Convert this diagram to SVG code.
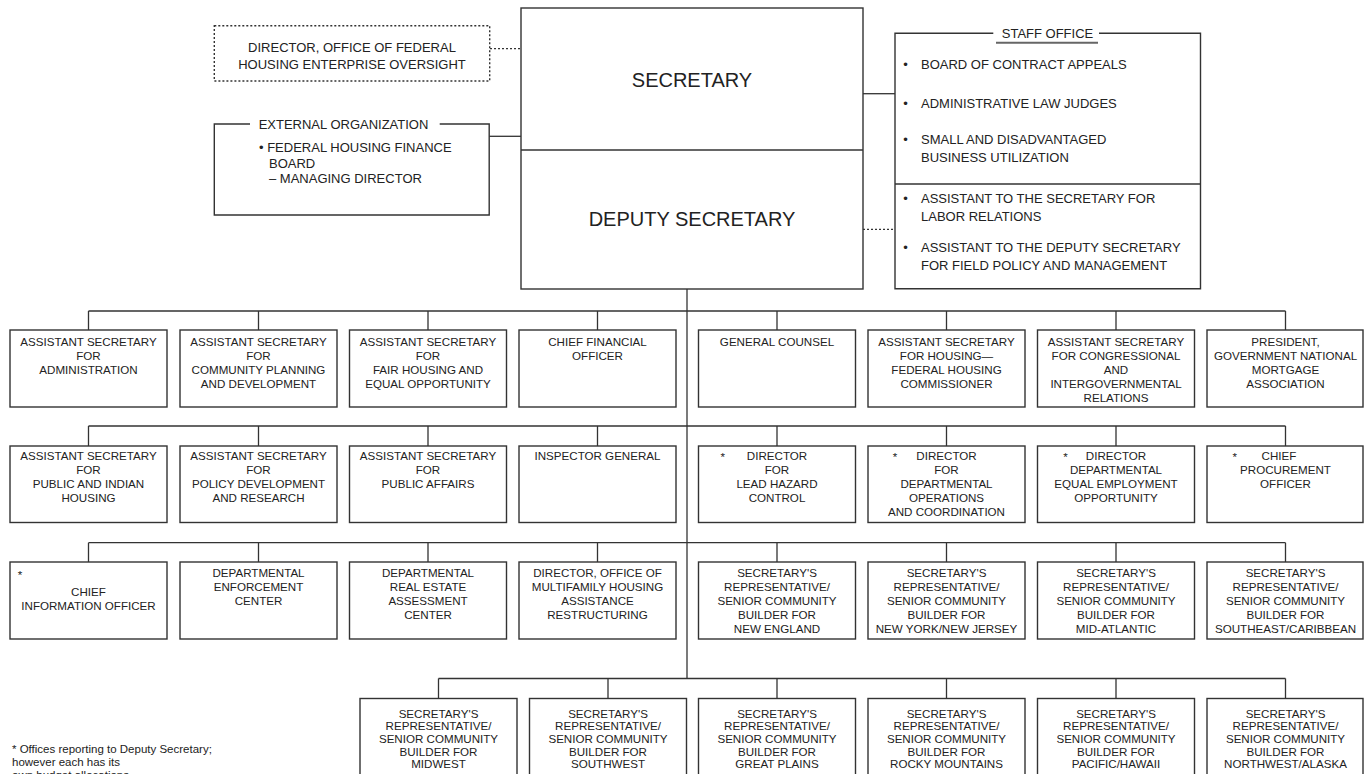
<svg xmlns="http://www.w3.org/2000/svg" width="1364" height="774" viewBox="0 0 1364 774">
<style>
.box{fill:#fff;stroke:#333;stroke-width:1.4}
.frame{fill:none;stroke:#333;stroke-width:1.4}
.dot{stroke-dasharray:2 2}
.c{fill:none;stroke:#333;stroke-width:1.3}
.t{font-family:"Liberation Sans",Arial,sans-serif;font-size:11.6px;fill:#222;text-anchor:middle}
.m{font-family:"Liberation Sans",Arial,sans-serif;font-size:13px;fill:#222}
.big{font-family:"Liberation Sans",Arial,sans-serif;font-size:20px;fill:#222;text-anchor:middle}
.fn{font-family:"Liberation Sans",Arial,sans-serif;font-size:11.5px;fill:#222}
</style>
<rect width="1364" height="774" fill="#fff"/>

<g id="connectors">
  <path class="c dot" d="M490,48.7H521"/>
  <path class="c" d="M489.2,136.3H521"/>
  <path class="c" d="M863,93.7H895"/>
  <path class="c dot" d="M863,229.3H895"/>
  <path class="c" d="M687,289V678.5"/>
  <path class="c" d="M88.5,311H1285.5M88.5,311V330M258.5,311V330M428,311V330M597.5,311V330M777,311V330M946.5,311V330M1116,311V330M1285.5,311V330"/>
  <path class="c" d="M88.5,426H1285.5M88.5,426V446M258.5,426V446M428,426V446M597.5,426V446M777,426V446M946.5,426V446M1116,426V446M1285.5,426V446"/>
  <path class="c" d="M88.5,542.7H1285.5M88.5,542.7V562M258.5,542.7V562M428,542.7V562M597.5,542.7V562M777,542.7V562M946.5,542.7V562M1116,542.7V562M1285.5,542.7V562"/>
  <path class="c" d="M438.5,678.5H1285.5M438.5,678.5V698.5M608,678.5V698.5M777,678.5V698.5M946.5,678.5V698.5M1116,678.5V698.5M1285.5,678.5V698.5"/>
</g>

<g id="ofheo">
  <rect class="box dot" x="214.3" y="25.7" width="275.4" height="55.3"/>
  <text class="m" text-anchor="middle" x="352" y="51.5">DIRECTOR, OFFICE OF FEDERAL</text>
  <text class="m" text-anchor="middle" x="352" y="69.3">HOUSING ENTERPRISE OVERSIGHT</text>
</g>

<g id="external">
  <path class="frame" d="M250,124H214.3V215H489.2V124H439.7"/>
  <text class="m" text-anchor="middle" x="343.5" y="129.3">EXTERNAL ORGANIZATION</text>
  <text class="m" x="259" y="152.3">• FEDERAL HOUSING FINANCE</text>
  <text class="m" x="269" y="167.5">BOARD</text>
  <text class="m" x="269" y="183.3">– MANAGING DIRECTOR</text>
</g>

<g id="secretary">
  <rect class="box" x="521" y="8" width="342" height="281"/>
  <path class="frame" d="M521,150H863"/>
  <text class="big" x="692" y="87.3">SECRETARY</text>
</g>
<g id="deputy">
  <text class="big" x="692" y="226">DEPUTY SECRETARY</text>
</g>

<g id="staff">
  <path class="frame" d="M993.3,33.3H895V288.7H1200.5V33.3H1099"/>
  <path class="frame" d="M895,184H1200.5"/>
  <path d="M996,42.7H1098" stroke="#666" stroke-width="2"/>
  <text class="m" text-anchor="middle" x="1047.5" y="38.3">STAFF OFFICE</text>
  <g class="m">
    <text x="905.5" y="68.6" text-anchor="middle">•</text><text x="921" y="68.6">BOARD OF CONTRACT APPEALS</text>
    <text x="905.5" y="107.8" text-anchor="middle">•</text><text x="921" y="107.8">ADMINISTRATIVE LAW JUDGES</text>
    <text x="905.5" y="143.8" text-anchor="middle">•</text><text x="921" y="143.8">SMALL AND DISADVANTAGED</text>
    <text x="921" y="161.8">BUSINESS UTILIZATION</text>
    <text x="905.5" y="203" text-anchor="middle">•</text><text x="921" y="203">ASSISTANT TO THE SECRETARY FOR</text>
    <text x="921" y="221">LABOR RELATIONS</text>
    <text x="905.5" y="251.8" text-anchor="middle">•</text><text x="921" y="251.8">ASSISTANT TO THE DEPUTY SECRETARY</text>
    <text x="921" y="269.8">FOR FIELD POLICY AND MANAGEMENT</text>
  </g>
</g>

<!-- Row 1 -->
<g id="r1-admin"><rect class="box" x="10" y="330" width="157" height="77"/>
  <text class="t"><tspan x="88.5" y="346">ASSISTANT SECRETARY</tspan><tspan x="88.5" y="360">FOR</tspan><tspan x="88.5" y="374">ADMINISTRATION</tspan></text></g>
<g id="r1-cpd"><rect class="box" x="180" y="330" width="157" height="77"/>
  <text class="t"><tspan x="258.5" y="346">ASSISTANT SECRETARY</tspan><tspan x="258.5" y="360">FOR</tspan><tspan x="258.5" y="374">COMMUNITY PLANNING</tspan><tspan x="258.5" y="388">AND DEVELOPMENT</tspan></text></g>
<g id="r1-fheo"><rect class="box" x="349.5" y="330" width="157" height="77"/>
  <text class="t"><tspan x="428" y="346">ASSISTANT SECRETARY</tspan><tspan x="428" y="360">FOR</tspan><tspan x="428" y="374">FAIR HOUSING AND</tspan><tspan x="428" y="388">EQUAL OPPORTUNITY</tspan></text></g>
<g id="r1-cfo"><rect class="box" x="519" y="330" width="157" height="77"/>
  <text class="t"><tspan x="597.5" y="346">CHIEF FINANCIAL</tspan><tspan x="597.5" y="360">OFFICER</tspan></text></g>
<g id="r1-gc"><rect class="box" x="698.5" y="330" width="157" height="77"/>
  <text class="t"><tspan x="777" y="346">GENERAL COUNSEL</tspan></text></g>
<g id="r1-housing"><rect class="box" x="868" y="330" width="157" height="77"/>
  <text class="t"><tspan x="946.5" y="346">ASSISTANT SECRETARY</tspan><tspan x="946.5" y="360">FOR HOUSING—</tspan><tspan x="946.5" y="374">FEDERAL HOUSING</tspan><tspan x="946.5" y="388">COMMISSIONER</tspan></text></g>
<g id="r1-cir"><rect class="box" x="1037.5" y="330" width="157" height="77"/>
  <text class="t"><tspan x="1116" y="346">ASSISTANT SECRETARY</tspan><tspan x="1116" y="360">FOR CONGRESSIONAL</tspan><tspan x="1116" y="374">AND</tspan><tspan x="1116" y="388">INTERGOVERNMENTAL</tspan><tspan x="1116" y="402">RELATIONS</tspan></text></g>
<g id="r1-gnma"><rect class="box" x="1207" y="330" width="156" height="77"/>
  <text class="t"><tspan x="1285.5" y="346">PRESIDENT,</tspan><tspan x="1285.5" y="360">GOVERNMENT NATIONAL</tspan><tspan x="1285.5" y="374">MORTGAGE</tspan><tspan x="1285.5" y="388">ASSOCIATION</tspan></text></g>

<!-- Row 2 -->
<g id="r2-pih"><rect class="box" x="10" y="446" width="157" height="76.5"/>
  <text class="t"><tspan x="88.5" y="460">ASSISTANT SECRETARY</tspan><tspan x="88.5" y="474">FOR</tspan><tspan x="88.5" y="488">PUBLIC AND INDIAN</tspan><tspan x="88.5" y="502">HOUSING</tspan></text></g>
<g id="r2-pdr"><rect class="box" x="180" y="446" width="157" height="76.5"/>
  <text class="t"><tspan x="258.5" y="460">ASSISTANT SECRETARY</tspan><tspan x="258.5" y="474">FOR</tspan><tspan x="258.5" y="488">POLICY DEVELOPMENT</tspan><tspan x="258.5" y="502">AND RESEARCH</tspan></text></g>
<g id="r2-pa"><rect class="box" x="349.5" y="446" width="157" height="76.5"/>
  <text class="t"><tspan x="428" y="460">ASSISTANT SECRETARY</tspan><tspan x="428" y="474">FOR</tspan><tspan x="428" y="488">PUBLIC AFFAIRS</tspan></text></g>
<g id="r2-ig"><rect class="box" x="519" y="446" width="157" height="76.5"/>
  <text class="t"><tspan x="597.5" y="460">INSPECTOR GENERAL</tspan></text></g>
<g id="r2-lead"><rect class="box" x="698.5" y="446" width="157" height="76.5"/>
  <text class="t" x="722.7" y="461">*</text>
  <text class="t"><tspan x="777" y="460">DIRECTOR</tspan><tspan x="777" y="474">FOR</tspan><tspan x="777" y="488">LEAD HAZARD</tspan><tspan x="777" y="502">CONTROL</tspan></text></g>
<g id="r2-ops"><rect class="box" x="868" y="446" width="157" height="76.5"/>
  <text class="t" x="895" y="461">*</text>
  <text class="t"><tspan x="946.5" y="460">DIRECTOR</tspan><tspan x="946.5" y="474">FOR</tspan><tspan x="946.5" y="488">DEPARTMENTAL</tspan><tspan x="946.5" y="502">OPERATIONS</tspan><tspan x="946.5" y="516">AND COORDINATION</tspan></text></g>
<g id="r2-eeo"><rect class="box" x="1037.5" y="446" width="157" height="76.5"/>
  <text class="t" x="1065.6" y="461">*</text>
  <text class="t"><tspan x="1116" y="460">DIRECTOR</tspan><tspan x="1116" y="474">DEPARTMENTAL</tspan><tspan x="1116" y="488">EQUAL EMPLOYMENT</tspan><tspan x="1116" y="502">OPPORTUNITY</tspan></text></g>
<g id="r2-cpo"><rect class="box" x="1207" y="446" width="156" height="76.5"/>
  <text class="t" x="1234.8" y="461">*</text>
  <text class="t"><tspan x="1279" y="460">CHIEF</tspan><tspan x="1285.5" y="474">PROCUREMENT</tspan><tspan x="1285.5" y="488">OFFICER</tspan></text></g>

<!-- Row 3 -->
<g id="r3-cio"><rect class="box" x="10" y="562" width="157" height="77"/>
  <text class="t" x="20" y="578.5">*</text>
  <text class="t"><tspan x="88.5" y="595.5">CHIEF</tspan><tspan x="88.5" y="609.5">INFORMATION OFFICER</tspan></text></g>
<g id="r3-enf"><rect class="box" x="180" y="562" width="157" height="77"/>
  <text class="t"><tspan x="258.5" y="577">DEPARTMENTAL</tspan><tspan x="258.5" y="591">ENFORCEMENT</tspan><tspan x="258.5" y="605">CENTER</tspan></text></g>
<g id="r3-reac"><rect class="box" x="349.5" y="562" width="157" height="77"/>
  <text class="t"><tspan x="428" y="577">DEPARTMENTAL</tspan><tspan x="428" y="591">REAL ESTATE</tspan><tspan x="428" y="605">ASSESSMENT</tspan><tspan x="428" y="619">CENTER</tspan></text></g>
<g id="r3-mhar"><rect class="box" x="519" y="562" width="157" height="77"/>
  <text class="t"><tspan x="597.5" y="577">DIRECTOR, OFFICE OF</tspan><tspan x="597.5" y="591">MULTIFAMILY HOUSING</tspan><tspan x="597.5" y="605">ASSISTANCE</tspan><tspan x="597.5" y="619">RESTRUCTURING</tspan></text></g>
<g id="r3-ne"><rect class="box" x="698.5" y="562" width="157" height="77"/>
  <text class="t"><tspan x="777" y="577">SECRETARY'S</tspan><tspan x="777" y="591">REPRESENTATIVE/</tspan><tspan x="777" y="605">SENIOR COMMUNITY</tspan><tspan x="777" y="619">BUILDER FOR</tspan><tspan x="777" y="633">NEW ENGLAND</tspan></text></g>
<g id="r3-nynj"><rect class="box" x="868" y="562" width="157" height="77"/>
  <text class="t"><tspan x="946.5" y="577">SECRETARY'S</tspan><tspan x="946.5" y="591">REPRESENTATIVE/</tspan><tspan x="946.5" y="605">SENIOR COMMUNITY</tspan><tspan x="946.5" y="619">BUILDER FOR</tspan><tspan x="946.5" y="633">NEW YORK/NEW JERSEY</tspan></text></g>
<g id="r3-ma"><rect class="box" x="1037.5" y="562" width="157" height="77"/>
  <text class="t"><tspan x="1116" y="577">SECRETARY'S</tspan><tspan x="1116" y="591">REPRESENTATIVE/</tspan><tspan x="1116" y="605">SENIOR COMMUNITY</tspan><tspan x="1116" y="619">BUILDER FOR</tspan><tspan x="1116" y="633">MID-ATLANTIC</tspan></text></g>
<g id="r3-se"><rect class="box" x="1207" y="562" width="156" height="77"/>
  <text class="t"><tspan x="1285.5" y="577">SECRETARY'S</tspan><tspan x="1285.5" y="591">REPRESENTATIVE/</tspan><tspan x="1285.5" y="605">SENIOR COMMUNITY</tspan><tspan x="1285.5" y="619">BUILDER FOR</tspan><tspan x="1285.5" y="633">SOUTHEAST/CARIBBEAN</tspan></text></g>

<!-- Row 4 -->
<g id="r4-mw"><rect class="box" x="360" y="698.5" width="157" height="82"/>
  <text class="t"><tspan x="438.5" y="717.5">SECRETARY'S</tspan><tspan x="438.5" y="730.2">REPRESENTATIVE/</tspan><tspan x="438.5" y="742.9">SENIOR COMMUNITY</tspan><tspan x="438.5" y="755.6">BUILDER FOR</tspan><tspan x="438.5" y="768.3">MIDWEST</tspan></text></g>
<g id="r4-sw"><rect class="box" x="529.5" y="698.5" width="157" height="82"/>
  <text class="t"><tspan x="608" y="717.5">SECRETARY'S</tspan><tspan x="608" y="730.2">REPRESENTATIVE/</tspan><tspan x="608" y="742.9">SENIOR COMMUNITY</tspan><tspan x="608" y="755.6">BUILDER FOR</tspan><tspan x="608" y="768.3">SOUTHWEST</tspan></text></g>
<g id="r4-gp"><rect class="box" x="698.5" y="698.5" width="157" height="82"/>
  <text class="t"><tspan x="777" y="717.5">SECRETARY'S</tspan><tspan x="777" y="730.2">REPRESENTATIVE/</tspan><tspan x="777" y="742.9">SENIOR COMMUNITY</tspan><tspan x="777" y="755.6">BUILDER FOR</tspan><tspan x="777" y="768.3">GREAT PLAINS</tspan></text></g>
<g id="r4-rm"><rect class="box" x="868" y="698.5" width="157" height="82"/>
  <text class="t"><tspan x="946.5" y="717.5">SECRETARY'S</tspan><tspan x="946.5" y="730.2">REPRESENTATIVE/</tspan><tspan x="946.5" y="742.9">SENIOR COMMUNITY</tspan><tspan x="946.5" y="755.6">BUILDER FOR</tspan><tspan x="946.5" y="768.3">ROCKY MOUNTAINS</tspan></text></g>
<g id="r4-ph"><rect class="box" x="1037.5" y="698.5" width="157" height="82"/>
  <text class="t"><tspan x="1116" y="717.5">SECRETARY'S</tspan><tspan x="1116" y="730.2">REPRESENTATIVE/</tspan><tspan x="1116" y="742.9">SENIOR COMMUNITY</tspan><tspan x="1116" y="755.6">BUILDER FOR</tspan><tspan x="1116" y="768.3">PACIFIC/HAWAII</tspan></text></g>
<g id="r4-nw"><rect class="box" x="1207" y="698.5" width="156" height="82"/>
  <text class="t"><tspan x="1285.5" y="717.5">SECRETARY'S</tspan><tspan x="1285.5" y="730.2">REPRESENTATIVE/</tspan><tspan x="1285.5" y="742.9">SENIOR COMMUNITY</tspan><tspan x="1285.5" y="755.6">BUILDER FOR</tspan><tspan x="1285.5" y="768.3">NORTHWEST/ALASKA</tspan></text></g>

<g id="footnote" class="fn">
  <text x="12" y="752.5">* Offices reporting to Deputy Secretary;</text>
  <text x="12" y="765.5">however each has its</text>
  <text x="12" y="778.5">own budget allocations</text>
</g>
</svg>
